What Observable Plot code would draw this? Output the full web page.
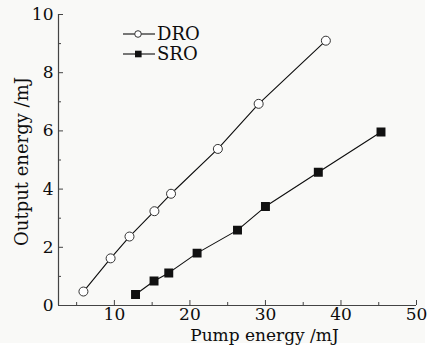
<!DOCTYPE html>
<html>
<head>
<meta charset="utf-8">
<script src="https://cdn.jsdelivr.net/npm/d3@7"></script>
<script src="https://cdn.jsdelivr.net/npm/@observablehq/plot@0.6"></script>
<style>
  html, body { margin: 0; padding: 0; background: #ffffff; }
  #wrap { position: relative; width: 438px; height: 348px; }
  #bg { position: absolute; left: 0; top: 0; width: 425px; height: 343px; background: #f9f9f7; }
  #chart { position: absolute; left: 0; top: 0; }
  #legend { position: absolute; left: 0; top: 0; }
</style>
</head>
<body>
<div id="wrap"><div id="bg"></div><div id="chart"></div><svg id="legend" width="438" height="80"></svg></div>
<script>
// DRO series (pump energy mJ, output energy mJ)
const droPump = [5.9, 9.5, 12.0, 15.3, 17.5, 23.7, 29.1, 38.0];
const droOut  = [0.48, 1.62, 2.37, 3.24, 3.84, 5.38, 6.93, 9.10];
// SRO series
const sroPump = [12.8, 15.25, 17.2, 20.95, 26.3, 30.0, 37.0, 45.3];
const sroOut  = [0.38, 0.84, 1.12, 1.80, 2.59, 3.40, 4.58, 5.96];
// axes
const xTicks = [10, 20, 30, 40, 50];
const xMinor = [5, 15, 25, 35, 45];
const yTicks = [0, 2, 4, 6, 8, 10];
const yMinor = [1, 3, 5, 7, 9];
const xDomain = [2.6, 50];
const yDomain = [0, 10];
const seriesNames = ["DRO", "SRO"];
const xLabel = "Pump energy /mJ";
const yLabel = "Output energy /mJ";

const dro = droPump.map((x, i) => ({x, y: droOut[i]}));
const sro = sroPump.map((x, i) => ({x, y: sroOut[i]}));

const W = 438, H = 348;
const mL = 58, mR = 22, mT = 14, mB = 43;
const fw = W - mL - mR, fh = H - mT - mB;
const font = "DejaVu Serif";
const ink = "#0d0d0d";

const chart = Plot.plot({
  width: W, height: H,
  marginLeft: mL, marginRight: mR, marginTop: mT, marginBottom: mB,
  style: {background: "transparent", fontFamily: font, color: ink},
  x: {domain: xDomain},
  y: {domain: yDomain},
  marks: [
    Plot.axisX({ticks: xTicks, tickSize: 0, tickPadding: 2, fontSize: 17, label: null, fill: ink}),
    Plot.axisY({ticks: yTicks, tickSize: 0, tickPadding: 5, fontSize: 17, label: null, fill: ink}),
    Plot.tickX(xTicks, {x: d => d, insetTop: fh - 5, stroke: "#444"}),
    Plot.tickX(xMinor, {x: d => d, insetTop: fh - 3, stroke: "#444"}),
    Plot.tickY(yTicks, {y: d => d, insetRight: fw - 5, stroke: "#444"}),
    Plot.tickY(yMinor, {y: d => d, insetRight: fw - 3, stroke: "#444"}),
    Plot.ruleY([yDomain[0]], {stroke: "#444", strokeWidth: 1.2}),
    Plot.ruleX([xDomain[0]], {stroke: "#444", strokeWidth: 1.2}),
    Plot.line(dro, {x: "x", y: "y", stroke: ink, strokeWidth: 1.1}),
    Plot.line(sro, {x: "x", y: "y", stroke: ink, strokeWidth: 1.1}),
    Plot.dot(dro, {x: "x", y: "y", r: 4.5, fill: "#ffffff", stroke: "#333", strokeWidth: 1}),
    Plot.dot(sro, {x: "x", y: "y", r: 4.2, symbol: "square", fill: "#111", stroke: "#111"}),
    Plot.text([xLabel], {frameAnchor: "bottom", textAnchor: "middle", lineAnchor: "middle", dx: 27, dy: 30, fontSize: 17, fill: ink, fontFamily: font}),
    Plot.text([yLabel], {frameAnchor: "left", textAnchor: "middle", lineAnchor: "middle", dx: -36, dy: 1.5, rotate: -90, fontSize: 18, fill: ink, fontFamily: font})
  ]
});
document.getElementById("chart").appendChild(chart);

// legend (inside plot, upper left)
const leg = d3.select("#legend");
const rows = [{name: seriesNames[0], y: 34, sym: "circle"}, {name: seriesNames[1], y: 54, sym: "square"}];
for (const r of rows) {
  leg.append("line").attr("x1", 123).attr("x2", 155).attr("y1", r.y).attr("y2", r.y)
    .attr("stroke", ink).attr("stroke-width", 1.1);
  if (r.sym === "circle") {
    leg.append("circle").attr("cx", 138).attr("cy", r.y).attr("r", 3.3)
      .attr("fill", "#fff").attr("stroke", "#333");
  } else {
    leg.append("rect").attr("x", 135).attr("y", r.y - 3.3).attr("width", 6.6).attr("height", 6.6)
      .attr("fill", "#111");
  }
  leg.append("text").attr("x", 157).attr("y", r.y).attr("dy", "0.36em")
    .attr("font-family", font).attr("font-size", 18).attr("fill", ink).text(r.name);
}
</script>
</body>
</html>
